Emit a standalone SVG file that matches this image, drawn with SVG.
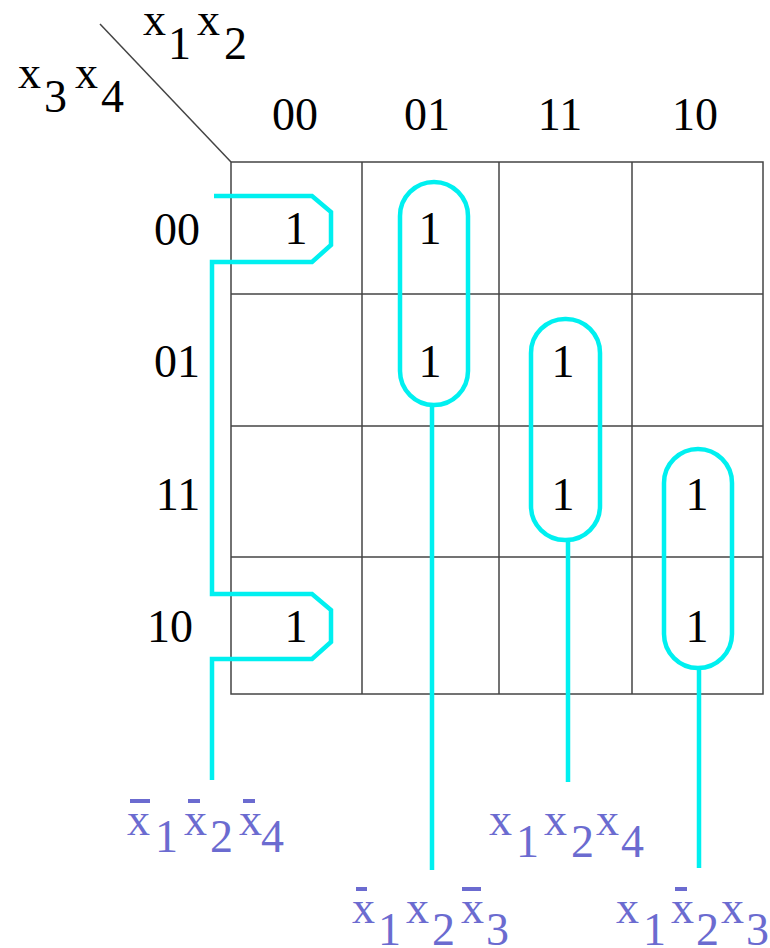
<svg xmlns="http://www.w3.org/2000/svg" width="770" height="948" viewBox="0 0 770 948">
<style>
.t{font-family:"Liberation Serif","Times New Roman",serif;font-size:46px;fill:#000}
.b{font-family:"Liberation Serif","Times New Roman",serif;font-size:46px;fill:#6b6bd0}
.m{text-anchor:middle}
.g{stroke:#444;stroke-width:1.5;fill:none}
.c{stroke:#00f0f0;stroke-width:4.5;fill:none}
.bar{stroke:#6b6bd0;stroke-width:4}
</style>
<rect width="770" height="948" fill="#fff"/>
<g id="header">
<line class="g" x1="100" y1="24" x2="231" y2="162"/>
<text class="t"><tspan x="143" y="35">x</tspan><tspan x="168" y="59">1</tspan><tspan x="197" y="35">x</tspan><tspan x="224" y="59">2</tspan></text>
<text class="t"><tspan x="18" y="88">x</tspan><tspan x="44" y="112">3</tspan><tspan x="75" y="88">x</tspan><tspan x="101" y="112">4</tspan></text>
<text class="t m" x="295" y="130">00</text>
<text class="t m" x="427" y="130">01</text>
<text class="t m" x="560" y="130">11</text>
<text class="t m" x="695" y="130">10</text>
<text class="t m" x="177" y="245">00</text>
<text class="t m" x="177" y="377">01</text>
<text class="t m" x="178" y="510">11</text>
<text class="t m" x="170" y="642">10</text>
</g>
<g id="grid">
<rect class="g" x="231" y="162" width="532" height="532"/>
<line class="g" x1="362" y1="162" x2="362" y2="694"/>
<line class="g" x1="499" y1="162" x2="499" y2="694"/>
<line class="g" x1="632" y1="162" x2="632" y2="694"/>
<line class="g" x1="231" y1="294" x2="763" y2="294"/>
<line class="g" x1="231" y1="426" x2="763" y2="426"/>
<line class="g" x1="231" y1="557" x2="763" y2="557"/>
</g>
<g id="cells">
<text class="t m" x="296" y="244">1</text>
<text class="t m" x="430" y="244">1</text>
<text class="t m" x="430" y="377">1</text>
<text class="t m" x="563" y="377">1</text>
<text class="t m" x="563" y="510">1</text>
<text class="t m" x="697" y="510">1</text>
<text class="t m" x="697" y="642">1</text>
<text class="t m" x="296" y="642">1</text>
</g>
<g id="connectors">
<path class="c" d="M214,196 H312 L331,212 V245 L312,262 H212 V594 H312 L331,610 V642 L312,659 H212 V780"/>
<rect class="c" x="400" y="182" width="68" height="223" rx="34"/>
<line class="c" x1="432" y1="405" x2="432" y2="870"/>
<rect class="c" x="531" y="319" width="69" height="221" rx="34"/>
<line class="c" x1="568" y1="540" x2="568" y2="782"/>
<rect class="c" x="664" y="449" width="68" height="219" rx="34"/>
<line class="c" x1="699" y1="668" x2="699" y2="868"/>
</g>
<g id="label1">
<text class="b"><tspan x="127" y="835">x</tspan><tspan x="155" y="852">1</tspan><tspan x="184" y="835">x</tspan><tspan x="210" y="852">2</tspan><tspan x="239" y="835">x</tspan><tspan x="261" y="852">4</tspan></text>
<line class="bar" x1="130" y1="801" x2="150" y2="801"/>
<line class="bar" x1="188" y1="801" x2="200" y2="801"/>
<line class="bar" x1="243" y1="801" x2="255" y2="801"/>
</g>
<g id="label2">
<text class="b"><tspan x="352" y="923">x</tspan><tspan x="378" y="945">1</tspan><tspan x="406" y="923">x</tspan><tspan x="432" y="945">2</tspan><tspan x="461" y="923">x</tspan><tspan x="486" y="945">3</tspan></text>
<line class="bar" x1="356" y1="889" x2="367" y2="889"/>
<line class="bar" x1="462" y1="889" x2="481" y2="889"/>
</g>
<g id="label3">
<text class="b"><tspan x="489" y="835">x</tspan><tspan x="516" y="857">1</tspan><tspan x="544" y="835">x</tspan><tspan x="571" y="857">2</tspan><tspan x="596" y="835">x</tspan><tspan x="621" y="857">4</tspan></text>
</g>
<g id="label4">
<text class="b"><tspan x="616" y="923">x</tspan><tspan x="643" y="945">1</tspan><tspan x="671" y="923">x</tspan><tspan x="696" y="945">2</tspan><tspan x="721" y="923">x</tspan><tspan x="746" y="945">3</tspan></text>
<line class="bar" x1="675" y1="889" x2="687" y2="889"/>
</g>
</svg>
